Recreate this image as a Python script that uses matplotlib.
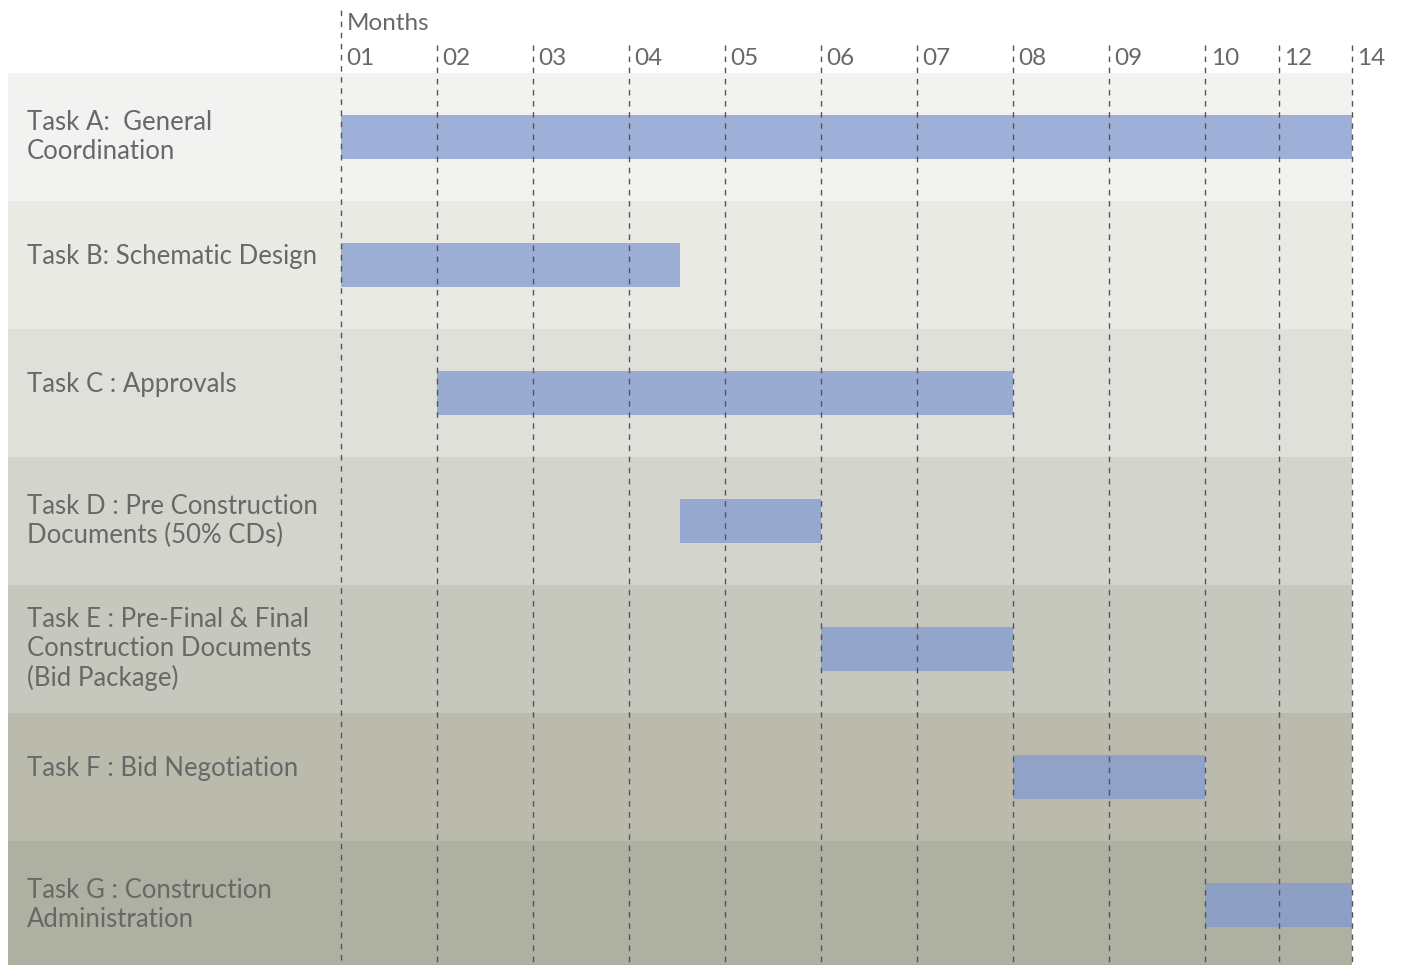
import matplotlib
matplotlib.use("Agg")
import matplotlib.pyplot as plt

# month ticks along the top (spacing after 10 is compressed in the original)
month_labels = ['01', '02', '03', '04', '05', '06', '07', '08', '09', '10', '12', '14']
month_pos = [1, 2, 3, 4, 5, 6, 7, 8, 9, 10, 10.77, 11.53]

tasks = ['Task A:  General\nCoordination',
         'Task B: Schematic Design',
         'Task C : Approvals',
         'Task D : Pre Construction\nDocuments (50% CDs)',
         'Task E : Pre-Final & Final\nConstruction Documents\n(Bid Package)',
         'Task F : Bid Negotiation',
         'Task G : Construction\nAdministration']
task_start = [1, 1, 2, 4.53, 6, 8, 10]
task_end = [11.53, 4.53, 8, 6, 8, 10, 11.53]

band_colors = ['#f2f2f0', '#eaeae5', '#dfe0da', '#d3d4cc', '#c6c7bd', '#babaad', '#aeb0a2']
bar_color = '#839ad0'
text_color = '#686868'

plt.rcParams['font.family'] = ['Lato', 'DejaVu Sans']

fig = plt.figure(figsize=(14.03, 9.65), dpi=100)
ax = fig.add_axes([0, 0, 1, 1])
ax.set_xlim(1 - 341 / 96, 1 + 1062 / 96)
ax.set_ylim((965 - 137) / 128, -137 / 128)
ax.axis('off')

band_left = 1 - 333 / 96
band_right = month_pos[-1]
rows = range(len(tasks))

# background row bands
ax.barh(rows, [band_right - band_left] * len(tasks), left=band_left, height=1,
        color=band_colors, zorder=0)

# task bars
widths = [e - s for s, e in zip(task_start, task_end)]
ax.barh(rows, widths, left=task_start, height=0.344, color=bar_color,
        alpha=0.75, zorder=2)

# dashed month lines
for i, p in enumerate(month_pos):
    top = -0.99 if i == 0 else -0.72
    ax.vlines(p, top, 6.5, colors='#555555', linestyles=(0, (4, 4)),
              linewidth=1, zorder=3)
    ax.annotate(month_labels[i], (p, -0.61), xytext=(4, 0), textcoords='offset points',
                ha='left', va='center', fontsize=17.5, color=text_color)

ax.annotate('Months', (month_pos[0], -0.89), xytext=(4, 0), textcoords='offset points',
            ha='left', va='center', fontsize=17.5, color=text_color)

# task labels
for i, t in enumerate(tasks):
    y = i if '\n' in t else i - 0.07
    ax.text(1 - 314 / 96, y, t, ha='left', va='center', fontsize=18.5,
            color=text_color, linespacing=1.18, zorder=4)

fig.savefig('out.png', dpi=100, facecolor='white')
